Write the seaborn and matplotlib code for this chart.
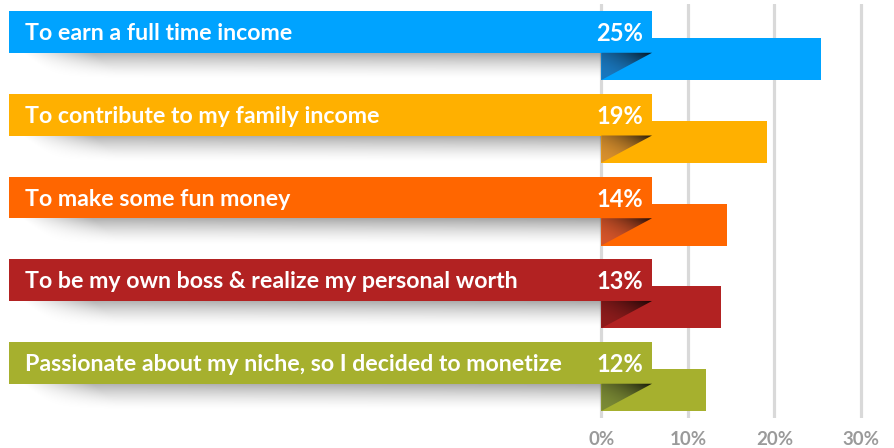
import numpy as np
import matplotlib
matplotlib.use("Agg")
import matplotlib.pyplot as plt
from matplotlib.patches import Rectangle, Polygon
from matplotlib.colors import to_rgb
import seaborn as sns

# chart data
reasons = [
    "To earn a full time income",
    "To contribute to my family income",
    "To make some fun money",
    "To be my own boss & realize my personal worth",
    "Passionate about my niche, so I decided to monetize",
]
bar_values = [25.4, 19.1, 14.5, 13.8, 12.1]
pct_labels = ["25%", "19%", "14%", "13%", "12%"]
bar_colors = ["#00a3ff", "#ffb000", "#ff6600", "#b22222", "#a6b02e"]
fold_colors = ["#1a78bf", "#d8902e", "#d5552a", "#8e1c1c", "#7b8a35"]
x_ticks = [0, 10, 20, 30]
x_tick_labels = ["0%", "10%", "20%", "30%"]

sns.set_theme(style="white")
plt.rcParams["font.family"] = ["Lato", "DejaVu Sans"]

fig = plt.figure(figsize=(8.95, 4.48), dpi=100, facecolor="white")
ax = fig.add_axes([0, 0.067, 1, 0.924])

sns.barplot(x=bar_values, y=reasons, hue=reasons, palette=bar_colors,
            orient="h", width=0.508, saturation=1, linewidth=0,
            legend=False, ax=ax, zorder=2)

# banner geometry (in data units)
ban_left, ban_right = -68.42, 5.91
ban_off, ban_h = -0.328, 0.504
bar_half = 0.254

for i, (lab, pct, col, fcol) in enumerate(zip(reasons, pct_labels, bar_colors, fold_colors)):
    ban_top = i + ban_off - ban_h / 2
    ban_bot = i + ban_off + ban_h / 2

    # soft shadow under the banner
    ny, nx = 40, 400
    yy, xx = np.mgrid[0:ny, 0:nx]
    yf = yy / (ny - 1)
    xf = xx / (nx - 1)
    dark = 0.36 * (1 - yf) ** 1.6
    start = 0.01 + 0.06 * yf
    ramp = np.clip((xf - start) / 0.12, 0, 1)
    dark = dark * ramp * (0.85 + 0.15 * xf)
    rgba = np.zeros((ny, nx, 4))
    rgba[..., 3] = dark
    ax.imshow(rgba, extent=(-67.7, 0, i + bar_half, ban_bot), origin="upper",
              aspect="auto", zorder=1.5, interpolation="bilinear")

    # banner
    ax.add_patch(Rectangle((ban_left, ban_top), ban_right - ban_left, ban_h,
                           facecolor=col, edgecolor="none", zorder=3))

    # folded corner
    tri = Polygon([(0, ban_bot), (ban_right - 0.05, ban_bot), (0, i + bar_half)],
                  closed=True, facecolor="none", edgecolor="none", zorder=4)
    ax.add_patch(tri)
    gy, gx = np.mgrid[0:30, 0:60]
    u = gx / 59
    v = gy / 29
    t = np.clip((u + (1 - v)) / 2, 0, 1) ** 2.2
    base = np.array(to_rgb(fcol))
    img = base[None, None, :] * (1 - 0.85 * t[..., None])
    im = ax.imshow(img, extent=(0, ban_right, i + bar_half, ban_bot), origin="upper",
                   aspect="auto", zorder=4, interpolation="bilinear")
    im.set_clip_path(tri)

    ty = i + ban_off + 0.02
    ax.text(-66.57, ty, lab, color="white", fontsize=16.7, fontweight="bold",
            va="center", ha="left", zorder=5)
    ax.text(4.81, ty, pct, color="white", fontsize=17, fontweight="bold",
            va="center", ha="right", zorder=5)

ax.set_xlim(-69.46, 33.93)
ax.set_ylim(4.338, -0.665)
ax.set_yticks([])
ax.set_ylabel("")
ax.set_xlabel("")
ax.set_xticks(x_ticks)
ax.set_xticklabels(x_tick_labels, color="#9a9a9a", fontsize=13.5, fontweight="bold")
ax.tick_params(axis="x", length=0, pad=9.5)
ax.set_axisbelow(True)
ax.grid(axis="x", color="#d9d9d9", linewidth=2.3)
ax.grid(axis="y", visible=False)
for s in ax.spines.values():
    s.set_visible(False)

fig.savefig("out.png", dpi=100, facecolor="white")
